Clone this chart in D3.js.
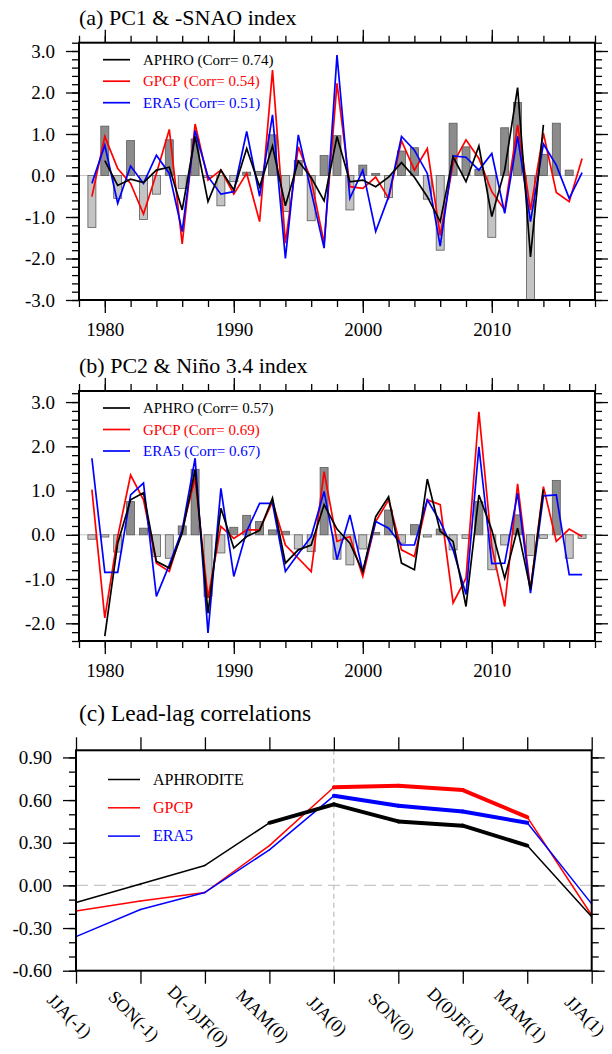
<!DOCTYPE html>
<html>
<head>
<meta charset="utf-8">
<script src="https://cdn.jsdelivr.net/npm/d3@7"></script>
<style>
  body { margin: 0; background: #fff; }
  svg text { font-family: "Liberation Serif", "Times New Roman", Times, serif !important; }
</style>
</head>
<body>
<div class="chart-container"></div>
<script>
// ---- data ----
const years = [1979, 1980, 1981, 1982, 1983, 1984, 1985, 1986, 1987, 1988,
  1989, 1990, 1991, 1992, 1993, 1994, 1995, 1996, 1997, 1998,
  1999, 2000, 2001, 2002, 2003, 2004, 2005, 2006, 2007, 2008,
  2009, 2010, 2011, 2012, 2013, 2014, 2015, 2016, 2017];

// (a) -SNAO bars and PC1 lines
const snaoIndex = [-1.25, 1.19, -0.55, 0.84, -1.06, -0.45, 0.86, -0.31, 0.88, -0.05,
  -0.73, -0.15, 0.08, 0.10, 0.98, -0.87, 0.36, -1.09, 0.48, 0.96,
  -0.83, 0.25, 0.05, -0.53, 0.59, 0.67, -0.57, -1.80, 1.26, 0.69,
  0.15, -1.49, 1.15, 1.76, -3.00, 0.51, 1.26, 0.13, null];
const pc1Aphro = [null, 0.36, -0.24, -0.09, -0.17, 0.13, 0.20, -0.83, 0.94, -0.63,
  0.13, -0.35, 0.65, -0.27, 0.71, -0.73, 0.35, -0.05, -0.61, 0.94,
  -0.15, -0.11, -0.27, -0.04, 0.31, -0.04, -0.51, -1.11, 0.45, -0.15,
  0.71, -0.99, 0.13, 2.12, -1.96, 1.22, null, null, null];
const pc1Gpcp = [-0.51, 0.94, 0.17, -0.19, -0.93, 0.05, 1.11, -1.65, 1.24, -0.11,
  0.13, -0.45, 0.05, -1.11, 2.54, -1.63, 0.69, -0.11, -1.63, 2.22,
  -0.27, -0.31, -0.04, -0.55, 0.84, 0.13, 0.65, -1.45, 0.29, 0.86,
  0.41, -0.39, -0.83, 1.22, -0.83, 1.02, -0.41, -0.63, 0.41];
const pc1Era5 = [-0.19, 0.73, -0.67, 0.23, -0.19, 0.49, 0.05, -1.35, 1.08, -0.03,
  -0.45, -0.39, 1.06, -0.50, 1.46, -2.00, 0.98, -0.39, -1.75, 2.90,
  -0.55, 0.13, -1.35, -0.51, 0.94, 0.61, 0.05, -1.70, 0.47, 0.44,
  0.13, 0.53, -0.91, 0.94, -1.11, 0.76, 0.25, -0.55, 0.07];

// (b) Nino 3.4 bars and PC2 lines
const ninoIndex = [-0.10, -0.05, -0.39, 0.75, 0.15, -0.49, -0.53, 0.20, 1.48, -1.39,
  -0.41, 0.17, 0.44, 0.30, 0.11, 0.08, -0.32, -0.38, 1.52, -0.55,
  -0.68, -0.32, 0.05, 0.56, -0.19, 0.23, -0.05, 0.13, -0.34, -0.08,
  0.75, -0.79, -0.23, 0.45, -0.47, -0.08, 1.23, -0.53, -0.08];
const pc2Aphro = [null, -2.29, -0.19, 0.79, 0.95, -0.60, -0.75, 0.04, 1.47, -1.77,
  0.60, -0.30, -0.04, 0.10, 0.83, -0.64, -0.34, -0.23, 0.68, 0.13,
  -0.19, -0.83, 0.41, 0.86, -0.64, -0.79, 1.26, 0.08, -0.15, -1.62,
  0.90, 0.11, -0.98, 0.15, -1.24, 1.02, null, null, null];
const pc2Gpcp = [1.02, -1.88, -0.04, 1.35, 0.79, -0.64, -0.83, 0.11, 1.28, -1.43,
  0.19, -0.08, 0.11, 0.11, 0.75, -0.23, -0.53, -0.83, 1.43, -0.15,
  -0.04, -0.94, 0.30, 0.79, -0.34, -0.49, 0.79, 0.68, -1.54, -0.98,
  2.78, -0.26, -1.62, 1.15, -1.24, 1.09, -0.15, 0.13, -0.04];
const pc2Era5 = [1.73, -0.85, -0.85, 0.90, 1.17, -1.39, -0.68, 0.11, 1.73, -2.22,
  1.05, -0.94, 0.08, 0.71, 0.71, -0.83, -0.43, -0.04, 0.98, -0.56,
  0.45, -0.83, 0.30, 0.15, -0.23, -0.23, 0.79, 0.30, -0.34, -1.35,
  1.99, -0.65, -0.64, 0.94, -1.32, 0.88, 0.90, -0.90, -0.90];

const legendA = ['APHRO (Corr= 0.74)', 'GPCP (Corr= 0.54)', 'ERA5 (Corr= 0.51)'];
const legendB = ['APHRO (Corr= 0.57)', 'GPCP (Corr= 0.69)', 'ERA5 (Corr= 0.67)'];
const yearTicks = [1980, 1990, 2000, 2010];

// (c) lead-lag correlations
const seasons = ['JJA(-1)', 'SON(-1)', 'D(-1)JF(0)', 'MAM(0)', 'JJA(0)',
  'SON(0)', 'D(0)JF(1)', 'MAM(1)', 'JJA(1)'];
const corrAphro = [-0.12, 0.01, 0.14, 0.44, 0.57, 0.45, 0.42, 0.28, -0.22];
const corrGpcp = [-0.18, -0.11, -0.05, 0.28, 0.69, 0.70, 0.67, 0.48, -0.21];
const corrEra5 = [-0.36, -0.17, -0.05, 0.25, 0.63, 0.56, 0.52, 0.44, -0.13];
// significant points (drawn thick)
const sigAphro = [0, 0, 0, 1, 1, 1, 1, 1, 0];
const sigGpcp = [0, 0, 0, 0, 1, 1, 1, 1, 0];
const sigEra5 = [0, 0, 0, 0, 1, 1, 1, 1, 0];
const legendC = ['APHRODITE', 'GPCP', 'ERA5'];
const corrTicks = [-0.6, -0.3, 0, 0.3, 0.6, 0.9];

const lineColors = ['#000000', '#ff0000', '#0000ff'];

const svg = d3.select('.chart-container').append('svg')
  .attr('width', 612).attr('height', 1054);

// frame + ticks on all four sides (NCL style)
function drawFrame(g, x, y, xMajor, xMinor, yMajor, yMinor, yFmt, xFmt) {
  const [x0, x1] = x.range();
  const [y0, y1] = y.range();
  const major = 13, minor = 7;

  // left
  g.append('g').attr('transform', `translate(${x0},0)`)
    .call(d3.axisLeft(y).tickValues(yMinor).tickSize(minor).tickFormat(''));
  g.append('g').attr('transform', `translate(${x0},0)`)
    .call(d3.axisLeft(y).tickValues(yMajor).tickSize(major).tickPadding(11).tickFormat(yFmt));
  // right
  g.append('g').attr('transform', `translate(${x1},0)`)
    .call(d3.axisRight(y).tickValues(yMinor).tickSize(minor).tickFormat(''));
  g.append('g').attr('transform', `translate(${x1},0)`)
    .call(d3.axisRight(y).tickValues(yMajor).tickSize(major).tickFormat(''));
  // top
  if (xMinor) g.append('g').attr('transform', `translate(0,${y1})`)
    .call(d3.axisTop(x).tickValues(xMinor).tickSize(minor).tickFormat(''));
  g.append('g').attr('transform', `translate(0,${y1})`)
    .call(d3.axisTop(x).tickValues(xMajor).tickSize(major).tickFormat(''));
  // bottom
  if (xMinor) g.append('g').attr('transform', `translate(0,${y0})`)
    .call(d3.axisBottom(x).tickValues(xMinor).tickSize(minor).tickFormat(''));
  const bx = g.append('g').attr('transform', `translate(0,${y0})`)
    .call(d3.axisBottom(x).tickValues(xMajor).tickSize(major).tickPadding(10)
      .tickFormat(xFmt));

  g.selectAll('.domain').remove();
  g.selectAll('g').attr('font-family', null).attr('font-size', null);
  g.selectAll('.tick line').attr('stroke', '#000').attr('stroke-width', 1.3);
  g.selectAll('.tick text').attr('fill', '#000').style('font-size', '19px');

  g.append('rect')
    .attr('x', x0).attr('y', y1).attr('width', x1 - x0).attr('height', y0 - y1)
    .attr('fill', 'none').attr('stroke', '#000').attr('stroke-width', 2);
  return bx;
}

function drawTimePanel(opt) {
  const g = svg.append('g');
  const x = d3.scaleLinear().domain([1978, 2018]).range([79, 595]);
  const y = d3.scaleLinear().domain(opt.yDomain).range([opt.bottom, opt.top]);

  // zero line
  g.append('line')
    .attr('x1', x(1978)).attr('x2', x(2018))
    .attr('y1', y(0)).attr('y2', y(0))
    .attr('stroke', '#c8c8c8').attr('stroke-width', 1);

  // index bars
  const bw = 8;
  const barData = years.map((yr, i) => ({ yr, v: opt.bars[i] })).filter(d => d.v != null);
  g.append('g').selectAll('rect').data(barData).enter().append('rect')
    .attr('x', d => x(d.yr) - bw / 2)
    .attr('width', bw)
    .attr('y', d => y(Math.max(0, d.v)))
    .attr('height', d => Math.abs(y(d.v) - y(0)))
    .attr('fill', d => d.v >= 0 ? '#8c8c8c' : '#c4c4c4')
    .attr('stroke', '#5a5a5a').attr('stroke-width', 0.8);

  // PC lines
  const lineGen = d3.line()
    .defined(d => d.v != null)
    .x(d => x(d.yr)).y(d => y(d.v));
  // black last so it sits on top
  [1, 2, 0].forEach(k => {
    const pts = years.map((yr, i) => ({ yr, v: opt.series[k][i] }));
    g.append('path').attr('d', lineGen(pts))
      .attr('fill', 'none').attr('stroke', lineColors[k])
      .attr('stroke-width', 1.7).attr('stroke-linejoin', 'miter');
  });

  drawFrame(g, x, y, yearTicks, d3.range(1978, 2019, 2),
    opt.yMajor, opt.yMinor, d => d.toFixed(1), d => d);

  // legend
  opt.legend.forEach((txt, k) => {
    const ly = opt.top + 17 + k * 21.5;
    g.append('line').attr('x1', 103).attr('x2', 130).attr('y1', ly).attr('y2', ly)
      .attr('stroke', lineColors[k]).attr('stroke-width', 1.7);
    g.append('text').attr('x', 143).attr('y', ly + 5).text(txt)
      .style('font-size', '15px').attr('fill', lineColors[k]);
  });

  // title
  svg.append('text').attr('x', 79).attr('y', opt.top - 18).text(opt.title)
    .style('font-size', '22px');
}

drawTimePanel({
  title: '(a) PC1 & -SNAO index',
  top: 42.7, bottom: 300, yDomain: [-3, 3.2],
  yMajor: [-3, -2, -1, 0, 1, 2, 3],
  yMinor: d3.range(-3, 3.21, 0.2),
  bars: snaoIndex, series: [pc1Aphro, pc1Gpcp, pc1Era5], legend: legendA
});

drawTimePanel({
  title: '(b) PC2 & Ni\u00f1o 3.4 index',
  top: 391, bottom: 641, yDomain: [-2.4, 3.25],
  yMajor: [-2, -1, 0, 1, 2, 3],
  yMinor: d3.range(-2.4, 3.21, 0.2),
  bars: ninoIndex, series: [pc2Aphro, pc2Gpcp, pc2Era5], legend: legendB
});

// ---- panel (c) ----
(function () {
  const g = svg.append('g');
  const x = d3.scalePoint().domain(seasons).range([76, 591.7]);
  const y = d3.scaleLinear().domain([-0.6, 0.95]).range([970.7, 750.3]);

  g.append('line').attr('x1', 76).attr('x2', 591.7).attr('y1', y(0)).attr('y2', y(0))
    .attr('stroke', '#c8c8c8').attr('stroke-width', 1.2).attr('stroke-dasharray', '12,6');
  g.append('line').attr('x1', x('JJA(0)')).attr('x2', x('JJA(0)'))
    .attr('y1', y(-0.6)).attr('y2', y(0.95))
    .attr('stroke', '#bdbdbd').attr('stroke-width', 1.2).attr('stroke-dasharray', '5,4');

  const series = [corrAphro, corrGpcp, corrEra5];
  const sigs = [sigAphro, sigGpcp, sigEra5];
  [1, 2, 0].forEach(k => {
    const vals = series[k];
    for (let i = 0; i < seasons.length - 1; i++) {
      const thick = sigs[k][i] && sigs[k][i + 1];
      g.append('line')
        .attr('x1', x(seasons[i])).attr('y1', y(vals[i]))
        .attr('x2', x(seasons[i + 1])).attr('y2', y(vals[i + 1]))
        .attr('stroke', lineColors[k]).attr('stroke-width', thick ? 4 : 1.5)
        .attr('stroke-linecap', 'round');
    }
  });

  const bx = drawFrame(g, x, y, seasons, null, corrTicks, d3.range(-0.6, 0.951, 0.1),
    d => d.toFixed(2), d => d);
  bx.selectAll('.tick text')
    .attr('text-anchor', 'middle').attr('dy', '0.35em').attr('y', 0)
    .style('font-size', '18px')
    .attr('transform', 'translate(-7,45) rotate(45)');

  legendC.forEach((txt, k) => {
    const ly = 779.5 + k * 28.3;
    g.append('line').attr('x1', 108).attr('x2', 140).attr('y1', ly).attr('y2', ly)
      .attr('stroke', lineColors[k]).attr('stroke-width', 1.5);
    g.append('text').attr('x', 153).attr('y', ly + 5).text(txt)
      .style('font-size', '16px').attr('fill', lineColors[k]);
  });

  svg.append('text').attr('x', 79).attr('y', 721).text('(c) Lead-lag correlations')
    .style('font-size', '23.5px');
})();
</script>
</body>
</html>
